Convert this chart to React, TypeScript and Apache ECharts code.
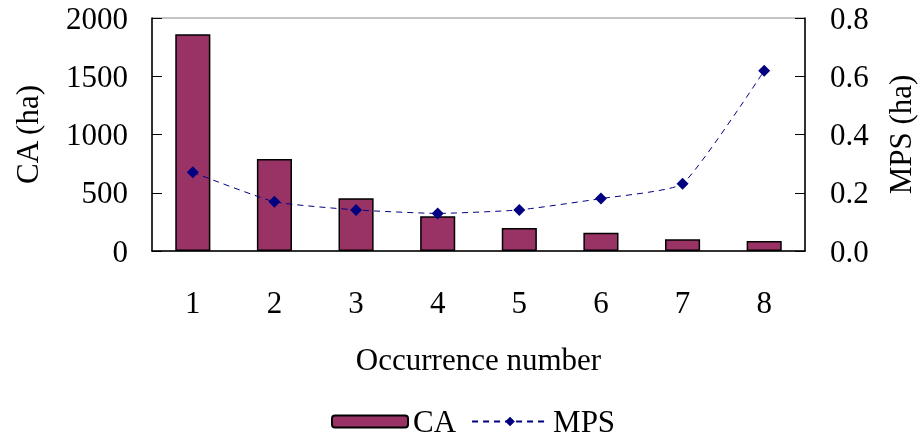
import React, { useEffect, useRef } from "react";
import * as echarts from "echarts";

const categories = ["1", "2", "3", "4", "5", "6", "7", "8"];
const caValues = [1860, 790, 452, 298, 197, 157, 100, 86];
const mpsValues = [0.27, 0.169, 0.141, 0.129, 0.141, 0.18, 0.231, 0.619];
const leftTicks = { min: 0, max: 2000, interval: 500 };
const rightTicks = { min: 0, max: 0.8, interval: 0.2 };

const FONT = "Liberation Serif";
const FS = 31;

export default function App() {
  const ref = useRef<HTMLDivElement>(null);
  useEffect(() => {
    if (!ref.current) return;
    const chart = echarts.init(ref.current, undefined, { renderer: "svg" });
    chart.setOption({
      animation: false,
      textStyle: { fontFamily: FONT, color: "#000" },
      grid: {
        left: 152,
        right: 114,
        top: 18,
        bottom: 187,
        show: true,
        borderColor: "#888",
        borderWidth: 1,
        containLabel: false,
        outerBoundsMode: "none",
      },
      legend: {
        left: 331,
        top: 406,
        padding: 0,
        itemWidth: 76,
        itemHeight: 12,
        itemGap: 15,
        textStyle: { fontFamily: FONT, fontSize: FS, color: "#000" },
        data: ["CA", "MPS"],
      },
      xAxis: {
        type: "category",
        data: categories,
        name: "Occurrence number",
        nameLocation: "middle",
        nameGap: 93,
        nameTextStyle: { fontFamily: FONT, fontSize: FS, color: "#000" },
        axisLine: { lineStyle: { color: "#000", width: 1.5 } },
        axisTick: { inside: true, length: 10, lineStyle: { color: "#666" } },
        axisLabel: { margin: 36, fontFamily: FONT, fontSize: FS, color: "#000" },
      },
      yAxis: [
        {
          type: "value",
          ...leftTicks,
          name: "CA (ha)",
          nameLocation: "middle",
          nameRotate: 90,
          nameGap: 109,
          nameTextStyle: { fontFamily: FONT, fontSize: FS, color: "#000" },
          axisLine: { show: true, lineStyle: { color: "#000", width: 1.5 } },
          axisTick: { show: true, inside: true, length: 10, lineStyle: { color: "#000" } },
          axisLabel: {
            margin: 24,
            fontFamily: FONT,
            fontSize: FS,
            color: "#000",
            formatter: (v: number) => String(v),
          },
          splitLine: { show: false },
        },
        {
          type: "value",
          ...rightTicks,
          position: "right",
          name: "MPS (ha)",
          nameLocation: "middle",
          nameRotate: 90,
          nameGap: 80,
          nameTextStyle: { fontFamily: FONT, fontSize: FS, color: "#000" },
          axisLine: { show: true, lineStyle: { color: "#000", width: 1.5 } },
          axisTick: { show: true, inside: true, length: 10, lineStyle: { color: "#000" } },
          axisLabel: {
            margin: 25,
            fontFamily: FONT,
            fontSize: FS,
            color: "#000",
            formatter: (v: number) => v.toFixed(1),
          },
          splitLine: { show: false },
        },
      ],
      series: [
        {
          name: "CA",
          type: "bar",
          data: caValues,
          barWidth: "43%",
          itemStyle: { color: "#993366", borderColor: "#000", borderWidth: 1.5 },
        },
        {
          name: "MPS",
          type: "line",
          yAxisIndex: 1,
          data: mpsValues,
          smooth: 0.15,
          symbol: "diamond",
          symbolSize: 12,
          itemStyle: { color: "#000080" },
          lineStyle: { color: "#000080", type: [6, 5], width: 1 },
        },
      ],
    });
    return () => chart.dispose();
  }, []);
  return (
    <div
      ref={ref}
      style={{ position: "fixed", left: 0, top: 0, width: 919, height: 438 }}
    />
  );
}
